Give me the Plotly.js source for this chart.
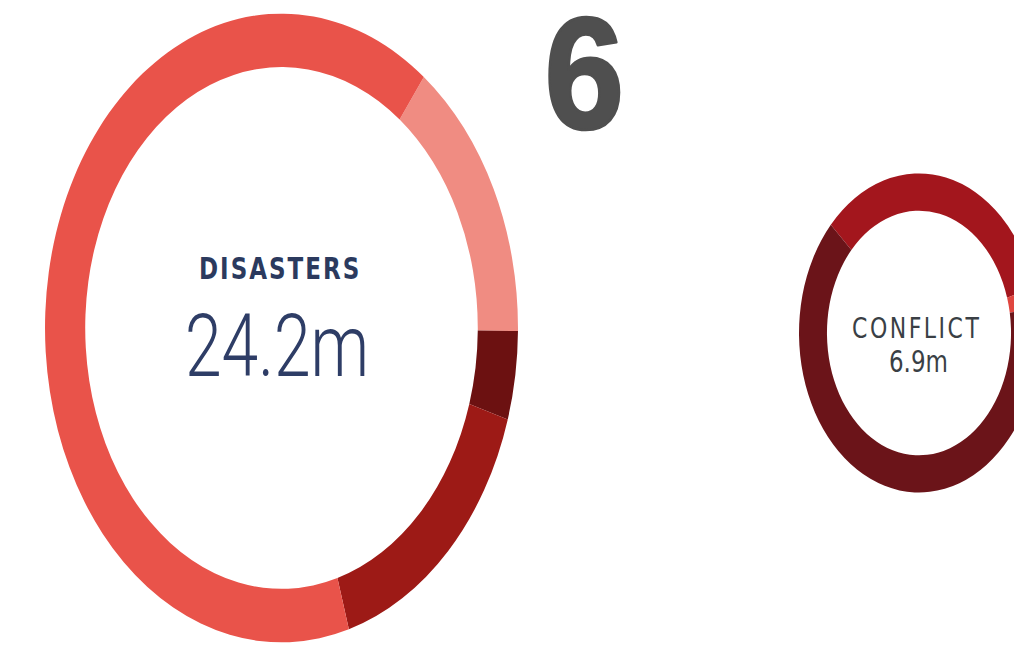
<!DOCTYPE html>
<html>
<head>
<meta charset="utf-8">
<script src="https://cdn.plot.ly/plotly-3.0.1.min.js"></script>
<style>
  html, body { margin: 0; padding: 0; background: #ffffff; }
  body { width: 1014px; height: 646px; overflow: hidden; position: relative; }
  #chart { width: 1080px; height: 486px; transform-origin: 0 0; transform: scaleY(1.3292); }
  g.annotation[data-index="0"] text { letter-spacing: 2px; }
  g.annotation[data-index="2"] text { letter-spacing: 2.5px; }
  g.annotation[data-index="4"] text {
    stroke: #4F4F4F; stroke-width: 2px; stroke-linejoin: round;
    transform-box: fill-box; transform-origin: center; transform: scaleX(1.2);
  }
</style>
</head>
<body>
<div id="chart"></div>
<script>
// Disasters ring (clockwise from its first slice)
const disasterLabels = ["Segment 1", "Segment 2", "Segment 3", "Segment 4"];
const disasterValues = [3.6, 1.1, 3.8, 15.7];
const disasterColors = ["#F08C82", "#6C1111", "#9D1A16", "#E9534A"];

// Conflict ring
const conflictLabels = ["Segment 1", "Segment 2", "Segment 3"];
const conflictValues = [2.31, 0.14, 4.45];
const conflictColors = ["#A3161D", "#E0463F", "#6B1419"];

const disasterTitle = "DISASTERS";
const disasterTotal = "24.2m";
const conflictTitle = "CONFLICT";
const conflictTotal = "6.9m";
const pageNumber = "6";

const W = 1080;
const traces = [
  {
    type: "pie",
    labels: disasterLabels,
    values: disasterValues,
    marker: { colors: disasterColors, line: { width: 0 } },
    hole: 0.83,
    sort: false,
    direction: "clockwise",
    rotation: 37,
    textinfo: "none",
    hoverinfo: "label+value",
    showlegend: false,
    domain: { x: [45 / W, 518 / W], y: [0.0057, 0.9789] }
  },
  {
    type: "pie",
    labels: conflictLabels,
    values: conflictValues,
    marker: { colors: conflictColors, line: { width: 0 } },
    hole: 0.767,
    sort: false,
    direction: "clockwise",
    rotation: -47.3,
    textinfo: "none",
    hoverinfo: "label+value",
    showlegend: false,
    domain: { x: [799 / W, 1039 / W], y: [0.2376, 0.7314] }
  }
];

function py(yOrig) { return 1 - yOrig / 646; }

const layout = {
  width: W,
  height: 486,
  margin: { l: 0, r: 0, t: 0, b: 0 },
  paper_bgcolor: "#ffffff",
  plot_bgcolor: "#ffffff",
  showlegend: false,
  annotations: [
    { text: disasterTitle, x: 280 / W, y: py(269), xref: "paper", yref: "paper",
      showarrow: false, xanchor: "center", yanchor: "middle",
      font: { family: "DejaVu Sans", size: 23, color: "#2B3A5E", weight: 700 } },
    { text: disasterTotal, x: 277 / W, y: py(346), xref: "paper", yref: "paper",
      showarrow: false, xanchor: "center", yanchor: "middle",
      font: { family: "Roboto", size: 66, color: "#2E3D66", weight: 300 } },
    { text: conflictTitle, x: 917 / W, y: py(328), xref: "paper", yref: "paper",
      showarrow: false, xanchor: "center", yanchor: "middle",
      font: { family: "DejaVu Sans", size: 22, color: "#3A3F45" } },
    { text: conflictTotal, x: 918 / W, y: py(362), xref: "paper", yref: "paper",
      showarrow: false, xanchor: "center", yanchor: "middle",
      font: { family: "DejaVu Sans", size: 23, color: "#3A3F45" } },
    { text: pageNumber, x: 584 / W, y: py(72), xref: "paper", yref: "paper",
      showarrow: false, xanchor: "center", yanchor: "middle",
      font: { family: "Liberation Sans", size: 120, color: "#4F4F4F", weight: 700 } }
  ]
};

Plotly.newPlot("chart", traces, layout, { staticPlot: true, displayModeBar: false });
</script>
</body>
</html>
